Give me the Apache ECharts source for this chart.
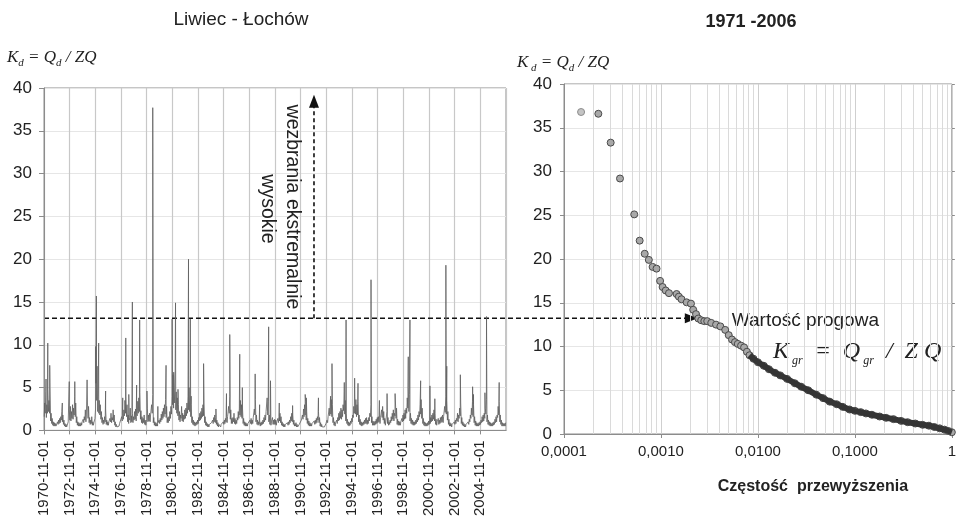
<!DOCTYPE html>
<html>
<head>
<meta charset="utf-8">
<script src="https://cdn.jsdelivr.net/npm/echarts@6/dist/echarts.min.js"></script>
<style>
html, body { margin: 0; padding: 0; background: #fff; }
#container { width: 959px; height: 519px; }
</style>
</head>
<body>
<div id="container"></div>
<script>
// daily flow index Kd = Qd / ZQ, Liwiec - Lochow, hydrological years 1971-2006
var startYear = 1970; // month 0 = 1970-11
// monthly upper level, one row per hydrological year (Nov..Oct)
var monthlyHighKd = [
    3.2, 4.5, 3.0, 4.8, 3.5, 5.0, 2.0, 1.4, 1.0, 0.9, 0.8, 0.7,
    1.0, 1.2, 1.4, 1.6, 2.2, 1.8, 1.2, 0.8, 0.7, 0.6, 1.0, 2.4,
    2.8, 2.2, 3.0, 2.6, 4.0, 3.2, 1.6, 1.0, 0.9, 0.8, 0.9, 1.0,
    1.3, 1.6, 2.4, 1.8, 3.2, 2.8, 1.5, 1.2, 1.6, 1.0, 0.9, 1.4,
    5.5, 7.5, 4.0, 3.5, 3.0, 2.2, 1.5, 1.2, 1.6, 2.5, 1.2, 1.0,
    1.0, 1.4, 2.0, 1.5, 2.4, 1.8, 1.0, 0.7, 0.6, 0.6, 0.8, 1.0,
    1.6, 2.0, 2.4, 3.5, 4.0, 3.0, 1.8, 1.5, 2.6, 1.7, 2.0, 1.6,
    2.2, 2.5, 2.0, 3.4, 3.8, 4.4, 2.3, 1.6, 1.4, 1.8, 1.2, 1.0,
    2.6, 1.8, 2.0, 1.8, 3.0, 4.2, 1.5, 1.0, 0.9, 0.8, 0.9, 1.2,
    1.4, 1.9, 2.2, 2.6, 3.0, 3.6, 2.8, 1.5, 1.6, 2.2, 2.8, 4.0,
    6.5, 5.0, 7.0, 4.5, 3.8, 3.0, 2.2, 1.8, 2.8, 2.0, 1.8, 2.4,
    2.6, 3.2, 4.0, 5.0, 4.2, 3.0, 1.6, 1.2, 1.0, 0.9, 1.0, 1.2,
    1.5, 2.0, 2.2, 2.6, 3.0, 3.2, 1.6, 1.0, 0.8, 0.7, 0.7, 0.8,
    0.9, 1.2, 1.5, 1.8, 1.5, 1.2, 0.9, 0.7, 0.8, 0.7, 0.8, 1.0,
    1.2, 1.4, 1.8, 1.6, 2.8, 4.0, 2.4, 1.4, 1.5, 2.0, 1.4, 1.2,
    1.5, 2.2, 2.6, 3.5, 3.0, 2.5, 1.4, 1.0, 0.9, 0.8, 0.8, 1.0,
    1.2, 1.4, 1.2, 1.5, 2.5, 3.6, 1.8, 1.2, 1.0, 1.2, 0.9, 1.0,
    1.2, 1.5, 1.8, 2.2, 3.8, 3.4, 1.8, 1.2, 1.0, 1.5, 1.2, 1.3,
    1.2, 1.0, 1.4, 1.6, 2.0, 1.6, 1.0, 0.8, 0.7, 0.7, 0.8, 0.9,
    1.0, 1.2, 1.6, 2.0, 1.8, 1.2, 0.8, 0.9, 0.7, 0.6, 0.7, 0.9,
    1.2, 1.8, 2.5, 3.0, 3.4, 2.2, 1.4, 1.1, 0.9, 0.8, 0.8, 1.0,
    1.1, 1.2, 1.4, 1.6, 2.2, 1.5, 0.9, 0.7, 0.6, 0.5, 0.6, 0.8,
    1.2, 1.6, 2.6, 3.2, 3.6, 3.0, 1.5, 1.0, 0.9, 1.2, 1.5, 2.0,
    2.2, 2.6, 2.4, 3.0, 4.5, 3.5, 2.0, 1.3, 1.0, 0.9, 1.1, 1.4,
    1.8, 2.8, 4.0, 3.6, 3.0, 3.4, 1.8, 1.3, 1.0, 0.9, 1.0, 1.2,
    1.4, 1.5, 1.2, 1.5, 2.0, 3.0, 1.6, 1.1, 1.0, 1.1, 1.3, 1.5,
    1.6, 1.8, 1.5, 2.4, 2.8, 2.2, 1.4, 1.1, 2.2, 1.5, 1.0, 1.2,
    1.6, 2.0, 2.4, 2.0, 3.2, 2.6, 1.3, 1.1, 1.0, 1.0, 1.4, 1.8,
    2.0, 2.4, 2.6, 3.8, 5.0, 4.2, 2.0, 1.4, 1.2, 1.0, 1.0, 1.2,
    1.4, 1.8, 2.2, 3.0, 3.6, 2.6, 1.4, 1.0, 0.9, 0.8, 0.9, 1.1,
    1.2, 1.5, 1.8, 2.0, 2.4, 2.0, 1.3, 1.0, 1.4, 1.2, 1.5, 1.6,
    1.8, 1.6, 2.8, 4.0, 3.5, 2.2, 1.3, 0.9, 0.8, 0.7, 0.8, 1.0,
    1.2, 1.4, 2.0, 1.8, 2.6, 3.2, 1.5, 1.0, 0.8, 0.7, 0.7, 0.8,
    1.0, 1.3, 1.8, 2.6, 3.4, 3.0, 1.6, 1.1, 0.9, 0.8, 0.9, 1.0,
    1.2, 1.6, 1.8, 2.0, 2.6, 3.6, 1.8, 1.2, 1.0, 0.9, 0.8, 0.9,
    1.0, 1.3, 1.6, 1.8, 2.8, 3.4, 1.8, 1.2, 0.9, 0.8, 0.8, 0.9
];
// monthly lower level, same layout
var monthlyLowKd = [
    1.6, 2.0, 1.5, 2.0, 2.2, 2.0, 1.1, 0.8, 0.6, 0.5, 0.5, 0.5,
    0.6, 0.7, 0.8, 0.9, 1.2, 1.0, 0.7, 0.5, 0.4, 0.4, 0.5, 0.9,
    1.2, 1.1, 1.4, 1.3, 1.8, 1.6, 0.9, 0.6, 0.5, 0.5, 0.5, 0.6,
    0.8, 0.9, 1.2, 1.0, 1.6, 1.4, 0.9, 0.7, 0.8, 0.6, 0.6, 0.8,
    2.5, 3.5, 2.2, 2.0, 1.8, 1.3, 0.9, 0.7, 0.8, 1.0, 0.7, 0.6,
    0.6, 0.8, 1.0, 0.9, 1.2, 1.0, 0.6, 0.4, 0.4, 0.4, 0.5, 0.6,
    0.9, 1.1, 1.3, 1.7, 2.0, 1.6, 1.0, 0.8, 1.2, 0.9, 1.0, 0.9,
    1.2, 1.3, 1.1, 1.7, 2.0, 2.2, 1.3, 0.9, 0.8, 0.9, 0.7, 0.6,
    1.3, 1.0, 1.1, 1.0, 1.6, 2.0, 0.9, 0.6, 0.5, 0.5, 0.5, 0.7,
    0.8, 1.0, 1.2, 1.4, 1.6, 1.9, 1.5, 0.9, 0.9, 1.1, 1.4, 1.9,
    3.0, 2.6, 3.2, 2.4, 2.0, 1.7, 1.2, 1.0, 1.4, 1.1, 1.0, 1.3,
    1.4, 1.7, 2.0, 2.4, 2.2, 1.6, 0.9, 0.7, 0.6, 0.5, 0.6, 0.7,
    0.8, 1.1, 1.2, 1.4, 1.6, 1.7, 0.9, 0.6, 0.5, 0.4, 0.4, 0.5,
    0.5, 0.7, 0.8, 1.0, 0.9, 0.7, 0.5, 0.4, 0.5, 0.4, 0.5, 0.6,
    0.7, 0.8, 1.0, 0.9, 1.5, 2.0, 1.3, 0.8, 0.8, 1.0, 0.8, 0.7,
    0.8, 1.2, 1.4, 1.8, 1.6, 1.4, 0.8, 0.6, 0.5, 0.5, 0.5, 0.6,
    0.7, 0.8, 0.7, 0.8, 1.3, 1.8, 1.0, 0.7, 0.6, 0.7, 0.5, 0.6,
    0.7, 0.8, 1.0, 1.2, 2.0, 1.8, 1.0, 0.7, 0.6, 0.8, 0.7, 0.7,
    0.7, 0.6, 0.8, 0.9, 1.1, 0.9, 0.6, 0.5, 0.4, 0.4, 0.5, 0.5,
    0.6, 0.7, 0.9, 1.1, 1.0, 0.7, 0.5, 0.5, 0.4, 0.4, 0.4, 0.5,
    0.7, 1.0, 1.3, 1.6, 1.8, 1.2, 0.8, 0.6, 0.5, 0.5, 0.5, 0.6,
    0.6, 0.7, 0.8, 0.9, 1.2, 0.9, 0.5, 0.4, 0.4, 0.3, 0.4, 0.5,
    0.7, 0.9, 1.4, 1.7, 1.9, 1.6, 0.9, 0.6, 0.5, 0.7, 0.8, 1.1,
    1.2, 1.4, 1.3, 1.6, 2.3, 1.9, 1.1, 0.8, 0.6, 0.5, 0.6, 0.8,
    1.0, 1.5, 2.0, 1.9, 1.6, 1.8, 1.0, 0.7, 0.6, 0.5, 0.6, 0.7,
    0.8, 0.8, 0.7, 0.8, 1.1, 1.6, 0.9, 0.6, 0.6, 0.6, 0.7, 0.8,
    0.9, 1.0, 0.8, 1.3, 1.5, 1.2, 0.8, 0.6, 1.1, 0.8, 0.6, 0.7,
    0.9, 1.1, 1.3, 1.1, 1.7, 1.4, 0.7, 0.6, 0.6, 0.6, 0.8, 1.0,
    1.1, 1.3, 1.4, 2.0, 2.6, 2.2, 1.1, 0.8, 0.7, 0.6, 0.6, 0.7,
    0.8, 1.0, 1.2, 1.6, 1.9, 1.4, 0.8, 0.6, 0.5, 0.5, 0.5, 0.6,
    0.7, 0.8, 1.0, 1.1, 1.3, 1.1, 0.7, 0.6, 0.8, 0.7, 0.8, 0.9,
    1.0, 0.9, 1.5, 2.1, 1.9, 1.2, 0.7, 0.5, 0.5, 0.4, 0.5, 0.6,
    0.7, 0.8, 1.1, 1.0, 1.4, 1.7, 0.8, 0.6, 0.5, 0.4, 0.4, 0.5,
    0.6, 0.7, 1.0, 1.4, 1.8, 1.6, 0.9, 0.6, 0.5, 0.5, 0.5, 0.6,
    0.7, 0.9, 1.0, 1.1, 1.4, 1.9, 1.0, 0.7, 0.6, 0.5, 0.5, 0.5,
    0.6, 0.7, 0.9, 1.0, 1.5, 1.8, 1.0, 0.7, 0.5, 0.5, 0.5, 0.5
];
// flood peaks (daily values)
var peakDates = [
    '1970-12-28', '1971-02-17', '1971-04-12', '1972-04-05', '1972-10-20', '1973-03-25',
    '1974-03-10', '1974-11-10', '1974-12-01', '1975-02-05', '1975-08-20', '1976-12-20',
    '1977-03-15', '1977-06-10', '1977-09-20', '1978-01-20', '1978-04-15', '1978-11-10',
    '1979-04-22', '1979-09-15', '1980-05-05', '1980-10-25', '1980-12-10', '1981-01-31',
    '1981-04-10', '1982-02-05', '1982-03-25', '1982-04-20', '1983-04-08', '1984-03-25',
    '1985-01-20', '1985-04-22', '1986-02-02', '1986-04-15', '1987-04-15', '1987-08-20',
    '1988-05-03', '1988-06-25', '1989-03-01', '1990-03-15', '1991-03-08', '1991-04-10',
    '1992-03-20', '1993-03-01', '1993-04-10', '1994-03-25', '1994-05-15', '1995-01-15',
    '1995-04-20', '1996-04-25', '1996-12-20', '1997-07-25', '1998-03-10', '1999-03-20',
    '1999-05-07', '2000-03-07', '2000-11-28', '2001-04-15', '2002-02-25', '2002-03-20',
    '2003-04-10', '2004-03-25', '2004-04-20', '2005-03-10', '2005-04-25', '2006-04-20'
];
var peakKd = [
    6.0, 10.2, 7.6, 3.2, 5.7, 5.7,
    5.9, 9.8, 15.7, 10.2, 4.6, 3.8,
    10.8, 4.2, 15.0, 5.3, 12.9, 4.6,
    37.7, 2.8, 7.6, 13.0, 6.8, 14.9,
    4.8, 20.0, 13.0, 4.0, 7.8, 2.5,
    4.3, 11.2, 8.9, 5.0, 6.6, 3.0,
    12.1, 5.8, 3.2, 2.9, 4.2, 3.8,
    3.8, 4.0, 7.8, 5.6, 12.9, 6.1,
    5.5, 17.6, 3.5, 4.3, 4.3, 8.6,
    12.9, 5.8, 5.2, 3.7, 19.3, 7.5,
    6.5, 5.1, 4.2, 4.4, 13.3, 5.6
];
// exceedance curve: sparse upper tail
var tailFreq = [0.00015, 0.000226, 0.000303, 0.000378, 0.00053, 0.000603, 0.00068, 0.00075,
    0.00082, 0.0009, 0.00098, 0.00104, 0.00112, 0.00121, 0.00145, 0.00153, 0.00163,
    0.00184, 0.00204, 0.00215, 0.0023, 0.00243];
var tailKd = [36.8, 36.6, 33.3, 29.2, 25.1, 22.1, 20.6, 19.9, 19.1, 18.9, 17.5, 16.8, 16.4,
    16.1, 16.0, 15.7, 15.4, 15.05, 14.9, 14.2, 13.7, 13.2];
// exceedance curve: dense part
var curveFreq = [0.0026, 0.0028, 0.0030, 0.0033, 0.0037, 0.0041, 0.0046, 0.0050, 0.0054,
    0.0058, 0.0062, 0.0067, 0.0072, 0.0077, 0.0082, 0.0090, 0.0100, 0.0115, 0.013, 0.015,
    0.017, 0.020, 0.024, 0.028, 0.033, 0.040, 0.047, 0.055, 0.065, 0.075, 0.088, 0.10,
    0.115, 0.13, 0.15, 0.18, 0.21, 0.25, 0.30, 0.35, 0.42, 0.50, 0.58, 0.66, 0.75, 0.84,
    0.92, 1.0];
var curveKd = [13.0, 12.9, 12.9, 12.7, 12.5, 12.3, 11.9, 11.3, 10.8, 10.5, 10.3, 10.1, 9.9,
    9.4, 9.0, 8.6, 8.2, 7.8, 7.4, 7.0, 6.7, 6.3, 5.8, 5.4, 5.0, 4.5, 4.1, 3.7, 3.4, 3.1,
    2.8, 2.65, 2.5, 2.35, 2.2, 2.0, 1.85, 1.7, 1.5, 1.35, 1.2, 1.05, 0.95, 0.8, 0.65, 0.5,
    0.35, 0.2];
var freqTicks = [0.0001, 0.001, 0.01, 0.1, 1];
var freqTickLabels = ['0,0001', '0,0010', '0,0100', '0,1000', '1'];
var kThreshold = 13.1;
var arrowFreq = 0.0024;
var arrowDate = '1991-11-15';
var arrowTopKd = 39.2;

function monthIndex(s) {
    var p = s.split('-');
    return (+p[0] - startYear) * 12 + (+p[1] - 11) + (+p[2] - 1) / 30.5;
}

var linePts = [];
monthlyHighKd.forEach(function (v, i) {
    linePts.push([i + 0.2, monthlyLowKd[i]]);
    linePts.push([i + 0.65, v]);
});
peakDates.forEach(function (d, i) { linePts.push([monthIndex(d), peakKd[i]]); });
linePts.sort(function (a, b) { return a[0] - b[0]; });

var scatterPts = [];
tailFreq.forEach(function (f, i) {
    if (i === 0) {
        scatterPts.push({ value: [f, tailKd[i]], itemStyle: { color: '#c4c4c4', borderColor: '#8c8c8c' } });
    } else {
        scatterPts.push([f, tailKd[i]]);
    }
});
curveFreq.forEach(function (f, i) { scatterPts.push([f, curveKd[i]]); });
var densePts = [];
curveFreq.forEach(function (f, i) { if (f >= 0.008) densePts.push([f, curveKd[i]]); });

// minor log grid lines (2..9 in each decade)
var minorLines = [];
for (var d = 0; d < freqTicks.length - 1; d++) {
    for (var k = 2; k <= 9; k++) {
        minorLines.push({ coords: [[freqTicks[d] * k, 0], [freqTicks[d] * k, 40]] });
    }
}

var sans = 'Liberation Sans, Arial, sans-serif';
var serif = 'Liberation Serif, Times New Roman, serif';

var dom = document.getElementById('container');
var myChart = echarts.init(dom);
var option = {
    backgroundColor: '#fff',
    animation: false,
    grid: [
        { left: 44, top: 88, width: 462, height: 343, show: true, borderColor: '#8c8c8c', borderWidth: 1 },
        { left: 564, top: 84, width: 389, height: 350, show: true, borderColor: '#8c8c8c', borderWidth: 1 }
    ],
    xAxis: [
        {
            gridIndex: 0, type: 'value', min: 0, max: 432, interval: 24,
            axisLine: { lineStyle: { color: '#8c8c8c' } },
            axisTick: { show: true, length: 4, lineStyle: { color: '#8c8c8c' } },
            splitLine: { show: true, lineStyle: { color: '#c8c8c8', width: 1.2 } },
            axisLabel: {
                rotate: 90, fontSize: 15, color: '#222', fontFamily: sans, margin: 10,
                showMaxLabel: false,
                formatter: function (v) { return (startYear + Math.round(v / 12)) + '-11-01'; }
            }
        },
        {
            gridIndex: 1, type: 'log', logBase: 10, min: 0.0001, max: 1,
            axisLine: { lineStyle: { color: '#8c8c8c' } },
            axisTick: { show: true, length: 4, lineStyle: { color: '#8c8c8c' } },
            splitLine: { show: true, lineStyle: { color: '#cfcfcf' } },
            axisLabel: {
                fontSize: 15, color: '#222', fontFamily: sans, margin: 10,
                formatter: function (v) {
                    var best = 0;
                    for (var i = 1; i < freqTicks.length; i++) {
                        if (Math.abs(Math.log10(v / freqTicks[i])) < Math.abs(Math.log10(v / freqTicks[best]))) best = i;
                    }
                    return freqTickLabels[best];
                }
            },
            name: 'Częstość  przewyższenia', nameLocation: 'middle', nameGap: 45,
            nameTextStyle: { fontSize: 16, fontWeight: 'bold', color: '#222', fontFamily: sans, padding: [0, 0, 0, 110] }
        }
    ],
    yAxis: [
        {
            gridIndex: 0, type: 'value', min: 0, max: 40, interval: 5,
            axisLine: { show: true, lineStyle: { color: '#8c8c8c' } },
            axisTick: { show: true, length: 5, lineStyle: { color: '#8c8c8c' } },
            splitLine: { lineStyle: { color: '#e6e6e6' } },
            axisLabel: { fontSize: 17, color: '#222', fontFamily: sans, margin: 12 }
        },
        {
            gridIndex: 1, type: 'value', min: 0, max: 40, interval: 5,
            axisLine: { show: true, lineStyle: { color: '#8c8c8c' } },
            axisTick: { show: true, length: 4, lineStyle: { color: '#8c8c8c' } },
            splitLine: { lineStyle: { color: '#e6e6e6' } },
            axisLabel: { fontSize: 17, color: '#222', fontFamily: sans, margin: 12 }
        },
        {
            gridIndex: 1, type: 'value', min: 0, max: 40, interval: 5, position: 'right',
            axisLine: { show: false },
            axisTick: { show: true, length: 3, lineStyle: { color: '#8c8c8c' } },
            splitLine: { show: false },
            axisLabel: { show: false }
        }
    ],
    series: [
        {
            name: 'Kd', type: 'line', xAxisIndex: 0, yAxisIndex: 0,
            data: linePts, showSymbol: false, symbol: 'none',
            lineStyle: { color: '#5e5e5e', width: 0.8 }
        },
        {
            name: 'minor grid', type: 'lines', coordinateSystem: 'cartesian2d',
            xAxisIndex: 1, yAxisIndex: 1, silent: true, z: 1,
            data: minorLines,
            lineStyle: { color: '#dadada', width: 1, opacity: 1 }
        },
        {
            name: 'exceedance', type: 'scatter', xAxisIndex: 1, yAxisIndex: 1,
            data: scatterPts, symbolSize: 7, z: 3,
            itemStyle: { color: '#a8a8a8', borderColor: '#4a4a4a', borderWidth: 1, opacity: 1 }
        },
        {
            name: 'exceedance dense', type: 'line', xAxisIndex: 1, yAxisIndex: 1,
            data: densePts, showSymbol: false, symbol: 'none', z: 4,
            lineStyle: { color: '#353535', width: 6 }
        }
    ]
};
myChart.setOption(option, true);

// annotations placed from data values
var pL = myChart.convertToPixel({ xAxisIndex: 0, yAxisIndex: 0 }, [0, kThreshold]);
var pR = myChart.convertToPixel({ xAxisIndex: 1, yAxisIndex: 1 }, [arrowFreq, kThreshold]);
var pV = myChart.convertToPixel({ xAxisIndex: 0, yAxisIndex: 0 }, [monthIndex(arrowDate), arrowTopKd]);
var yT = pL[1];
var xV = pV[0];
var ink = '#111';
var kdRich = {
    k: { fontFamily: serif, fontStyle: 'italic', fontSize: 17, fill: '#222', lineHeight: 22 },
    s: { fontFamily: serif, fontStyle: 'italic', fontSize: 11, fill: '#222', verticalAlign: 'bottom', lineHeight: 22 }
};
var grRich = {
    k: { fontFamily: serif, fontStyle: 'italic', fontSize: 24, fill: '#222', lineHeight: 30 },
    s: { fontFamily: serif, fontStyle: 'italic', fontSize: 12, fill: '#222', verticalAlign: 'bottom', lineHeight: 30 }
};
myChart.setOption({
    graphic: [
        { type: 'line', silent: true, shape: { x1: pL[0], y1: yT, x2: pR[0] - 12, y2: yT },
          style: { stroke: ink, lineWidth: 1.6, lineDash: [5, 3] } },
        { type: 'polygon', silent: true, shape: { points: [[pR[0], yT], [pR[0] - 13, yT - 5], [pR[0] - 13, yT + 5]] },
          style: { fill: ink } },
        { type: 'line', silent: true, shape: { x1: xV, y1: yT, x2: xV, y2: pV[1] + 12 },
          style: { stroke: ink, lineWidth: 1.6, lineDash: [4, 3] } },
        { type: 'polygon', silent: true, shape: { points: [[xV, pV[1]], [xV - 5, pV[1] + 13], [xV + 5, pV[1] + 13]] },
          style: { fill: ink } },
        { type: 'text', silent: true, x: xV - 22, y: 207, rotation: -Math.PI / 2,
          style: { text: 'wezbrania ekstremalnie', font: '19.5px ' + sans, fill: '#222',
                   align: 'center', verticalAlign: 'middle', textAlign: 'center', textVerticalAlign: 'middle' } },
        { type: 'text', silent: true, x: xV - 47, y: 209, rotation: -Math.PI / 2,
          style: { text: 'wysokie', font: '19.5px ' + sans, fill: '#222',
                   align: 'center', verticalAlign: 'middle', textAlign: 'center', textVerticalAlign: 'middle' } },
        { type: 'text', silent: true, x: pR[0] + 34, y: yT + 3,
          style: { text: 'Wartość progowa', font: '19px ' + sans, fill: '#222',
                   align: 'left', verticalAlign: 'middle', textAlign: 'left', textVerticalAlign: 'middle' } },
        { type: 'text', silent: true, x: 773, y: 352,
          style: { text: '{k|K}{s| gr}{k|  =  Q}{s| gr}{k|  /  Z Q}', rich: grRich,
                   align: 'left', verticalAlign: 'middle', textAlign: 'left', textVerticalAlign: 'middle' } },
        { type: 'text', silent: true, x: 7, y: 58,
          style: { text: '{k|K}{s|d}{k| = Q}{s|d}{k| / ZQ}', rich: kdRich,
                   align: 'left', verticalAlign: 'middle', textAlign: 'left', textVerticalAlign: 'middle' } },
        { type: 'text', silent: true, x: 517, y: 63,
          style: { text: '{k|K}{s| d}{k| = Q}{s|d}{k| / ZQ}', rich: kdRich,
                   align: 'left', verticalAlign: 'middle', textAlign: 'left', textVerticalAlign: 'middle' } },
        { type: 'text', silent: true, x: 241, y: 20,
          style: { text: 'Liwiec - Łochów', font: '19px ' + sans, fill: '#222',
                   align: 'center', verticalAlign: 'middle', textAlign: 'center', textVerticalAlign: 'middle' } },
        { type: 'text', silent: true, x: 751, y: 22,
          style: { text: '1971 -2006', font: 'bold 18px ' + sans, fill: '#222',
                   align: 'center', verticalAlign: 'middle', textAlign: 'center', textVerticalAlign: 'middle' } }
    ]
});
</script>
</body>
</html>
